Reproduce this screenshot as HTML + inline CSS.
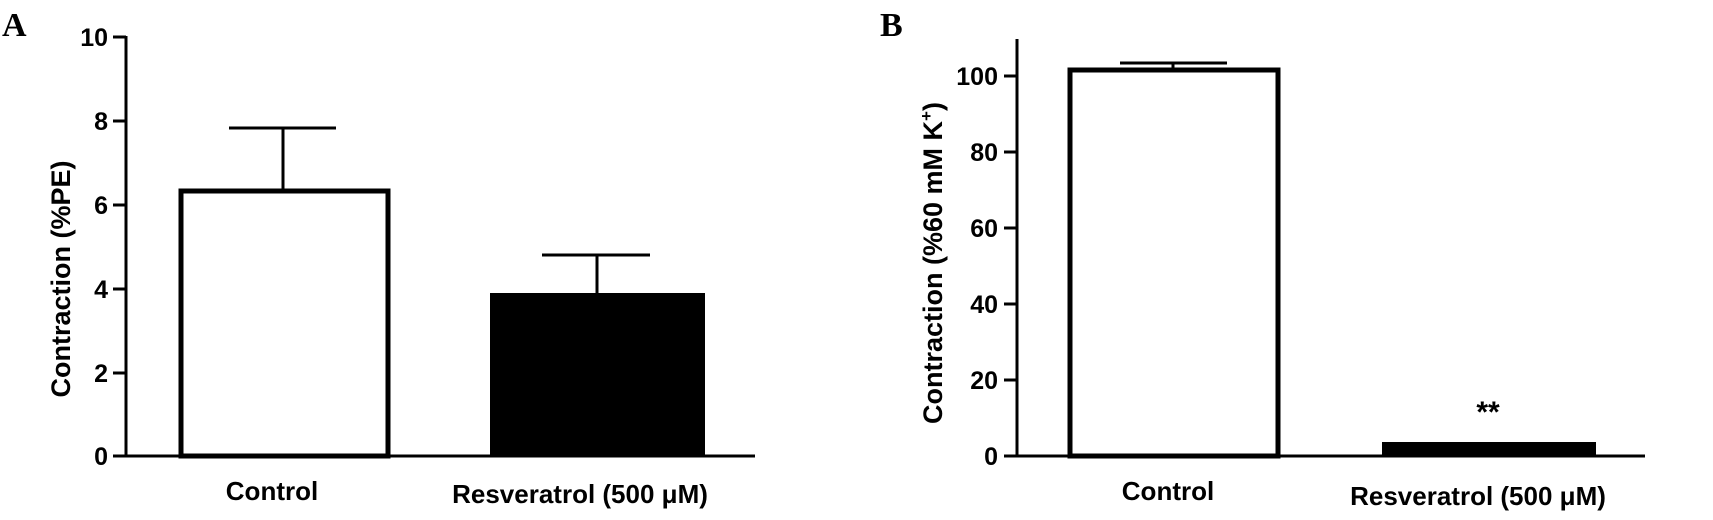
<!DOCTYPE html>
<html><head><meta charset="utf-8"><style>
html,body{margin:0;padding:0;background:#fff;}
svg{display:block}
text{font-family:"Liberation Sans",Arial,sans-serif;font-weight:bold;fill:#000}
.p{font-family:"Liberation Serif",serif}
</style></head><body>
<svg width="1713" height="520" viewBox="0 0 1713 520" xmlns="http://www.w3.org/2000/svg">
<!-- Panel A -->
<text class="p" x="2" y="36" font-size="34">A</text>
<g stroke="#000" stroke-width="3" fill="none">
<line x1="126" y1="36" x2="126" y2="457"/>
<line x1="113" y1="456" x2="755" y2="456"/>
<line x1="113" y1="37" x2="126" y2="37"/>
<line x1="113" y1="121" x2="126" y2="121"/>
<line x1="113" y1="205" x2="126" y2="205"/>
<line x1="113" y1="289" x2="126" y2="289"/>
<line x1="113" y1="373" x2="126" y2="373"/>
<line x1="283" y1="128" x2="283" y2="191"/>
<line x1="229" y1="128" x2="336" y2="128"/>
<line x1="597" y1="255" x2="597" y2="293"/>
<line x1="542" y1="255" x2="650" y2="255"/>
</g>
<rect x="181" y="191" width="207" height="265" fill="#fff" stroke="#000" stroke-width="5"/>
<rect x="490" y="293" width="215" height="163" fill="#000"/>
<g font-size="25" text-anchor="end">
<text x="108" y="46">10</text><text x="108" y="130">8</text><text x="108" y="214">6</text>
<text x="108" y="298">4</text><text x="108" y="382">2</text><text x="108" y="465">0</text>
</g>
<text font-size="27" text-anchor="middle" transform="translate(70,279) rotate(-90)">Contraction (%PE)</text>
<text x="272" y="500" font-size="26" text-anchor="middle">Control</text>
<text x="580" y="503" font-size="26" text-anchor="middle">Resveratrol (500 μM)</text>
<!-- Panel B -->
<text class="p" x="880" y="36" font-size="34">B</text>
<g stroke="#000" stroke-width="3" fill="none">
<line x1="1017" y1="39" x2="1017" y2="457"/>
<line x1="1004" y1="456" x2="1645" y2="456"/>
<line x1="1004" y1="76" x2="1017" y2="76"/>
<line x1="1004" y1="152" x2="1017" y2="152"/>
<line x1="1004" y1="228" x2="1017" y2="228"/>
<line x1="1004" y1="304" x2="1017" y2="304"/>
<line x1="1004" y1="380" x2="1017" y2="380"/>
<line x1="1173" y1="63" x2="1173" y2="70"/>
<line x1="1120" y1="63" x2="1227" y2="63"/>
</g>
<rect x="1070" y="70" width="208" height="386" fill="#fff" stroke="#000" stroke-width="5"/>
<rect x="1382" y="442" width="214" height="14" fill="#000"/>
<g font-size="25" text-anchor="end">
<text x="998" y="85">100</text><text x="998" y="161">80</text><text x="998" y="237">60</text>
<text x="998" y="313">40</text><text x="998" y="389">20</text><text x="998" y="465">0</text>
</g>
<text font-size="27" text-anchor="middle" transform="translate(942,263) rotate(-90)">Contraction (%60 mM K<tspan font-size="17" dy="-10">+</tspan><tspan dy="10">)</tspan></text>
<text x="1488" y="422" font-size="30" text-anchor="middle">**</text>
<text x="1168" y="500" font-size="26" text-anchor="middle">Control</text>
<text x="1478" y="505" font-size="26" text-anchor="middle">Resveratrol (500 μM)</text>
</svg>
</body></html>
